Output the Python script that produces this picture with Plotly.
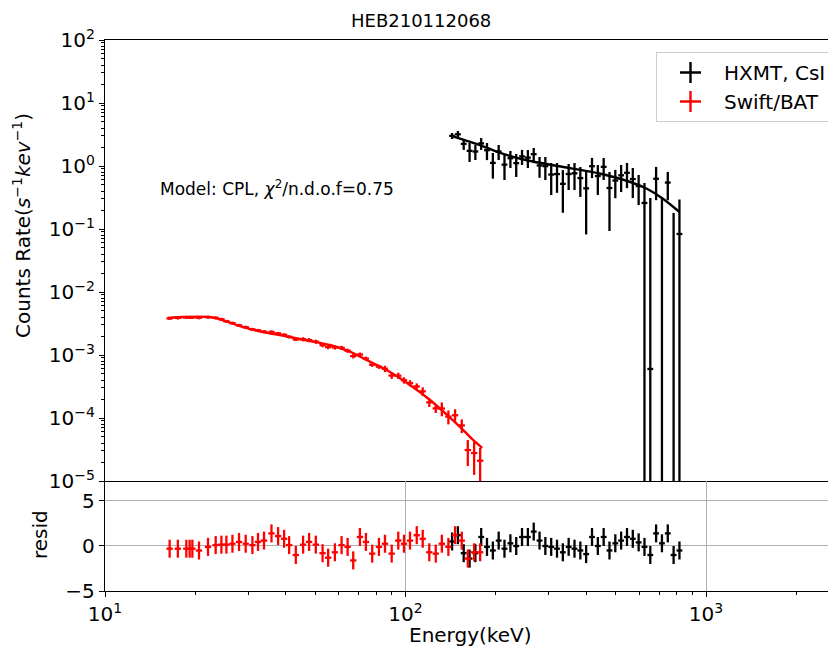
import plotly.graph_objects as go

# ---------------- data ----------------
# HXMT / CsI spectrum
hxmt_energy = [142.9, 149.4, 156.2, 163.4, 170.8, 178.6, 186.7, 195.3, 204.2, 213.5,
               223.4, 233.6, 244.2, 255.4, 267.1, 279.3, 292.0, 305.4, 319.3, 333.9,
               349.1, 365.1, 381.8, 399.2, 417.5, 436.5, 456.5, 477.3, 499.1, 521.9,
               545.8, 570.7, 596.8, 624.1, 652.6, 682.3, 713.5, 746.1, 780.2, 815.9]
hxmt_rate = [3.01, 3.19, 2.24, 1.74, 1.70, 2.29, 1.78, 1.12, 1.70, 1.05,
             1.33, 1.11, 1.42, 1.36, 1.54, 1.02, 0.995, 0.731, 0.745, 0.521,
             0.746, 0.766, 0.643, 0.442, 0.993, 0.692, 0.97, 0.448, 0.588, 0.712,
             0.78, 0.62, 0.48, 0.259, 0.0006, 0.627, -0.05, 0.546, -0.10, 0.0834]
hxmt_err = [0.33, 0.41, 0.44, 0.58, 0.455, 0.49, 0.54, 0.49, 0.455, 0.45,
            0.40, 0.44, 0.38, 0.43, 0.39, 0.37, 0.395, 0.385, 0.37, 0.34,
            0.33, 0.35, 0.32, 0.36, 0.35, 0.345, 0.37, 0.355, 0.28, 0.325,
            0.335, 0.31, 0.24, 0.28, 0.31, 0.34, 0.36, 0.26, 0.28, 0.21]
hxmt_resid = [0.5, 1.2, -0.8, -1.4, -0.8, 1.0, -0.1, -0.5, 0.6, -0.3,
              0.3, 0.0, 1.0, 1.0, 1.6, 0.6, 0.0, -0.1, -0.3, -0.7,
              -0.1, -0.3, -0.5, -0.9, 1.0, 0.0, 1.0, -0.5, 0.3, 0.6,
              1.0, 0.8, 0.4, -0.1, -1.0, 1.4, 0.3, 1.4, -1.0, -0.5]
hxmt_model_energy = [142.9, 177.1, 206.5, 260.0, 334.9, 434.9, 560.0, 638.1, 721.4, 816.2]
hxmt_model_rate = [2.99, 2.15, 1.61, 1.20, 0.964, 0.774, 0.557, 0.431, 0.299, 0.186]

# Swift / BAT spectrum
bat_energy = [16.41, 17.48, 18.65, 19.13, 19.53, 20.55, 22.02, 23.35, 24.40, 25.35,
              26.55, 27.93, 29.39, 30.94, 32.30, 33.82, 35.81, 37.67, 39.45, 41.00,
              43.15, 45.63, 47.78, 50.30, 52.97, 55.29, 58.21, 61.28, 64.18, 66.99,
              70.52, 73.84, 77.49, 81.58, 85.43, 89.95, 94.62, 98.85, 103.5, 109.0,
              114.1, 120.0, 126.1, 132.1, 138.9, 146.2, 153.9, 161.2, 169.2, 177.2]
bat_rate = [3.804e-3, 3.874e-3, 3.945e-3, 3.945e-3, 3.945e-3, 3.902e-3, 3.989e-3, 3.888e-3, 3.690e-3, 3.429e-3,
            3.205e-3, 2.958e-3, 2.770e-3, 2.553e-3, 2.463e-3, 2.351e-3, 2.326e-3, 2.205e-3, 2.092e-3, 1.941e-3,
            1.762e-3, 1.781e-3, 1.724e-3, 1.626e-3, 1.436e-3, 1.335e-3, 1.320e-3, 1.301e-3, 1.170e-3, 9.57e-4,
            1.018e-3, 8.77e-4, 7.01e-4, 6.52e-4, 6.05e-4, 4.72e-4, 4.69e-4, 3.97e-4, 3.57e-4, 3.17e-4,
            2.65e-4, 1.774e-4, 1.420e-4, 1.415e-4, 1.052e-4, 1.104e-4, 7.63e-5, 3.10e-5, 2.78e-5, 2.10e-5]
bat_err = [2.14e-4, 2.18e-4, 2.22e-4, 2.22e-4, 2.22e-4, 2.20e-4, 2.25e-4, 2.19e-4, 2.08e-4, 1.93e-4,
           1.80e-4, 1.67e-4, 1.56e-4, 1.44e-4, 1.39e-4, 1.32e-4, 1.31e-4, 1.24e-4, 1.18e-4, 1.09e-4,
           9.9e-5, 1.35e-4, 1.31e-4, 1.23e-4, 1.09e-4, 1.01e-4, 1.00e-4, 9.9e-5, 8.9e-5, 7.3e-5,
           7.7e-5, 6.6e-5, 5.3e-5, 4.9e-5, 7.0e-5, 5.5e-5, 5.4e-5, 4.6e-5, 4.1e-5, 3.7e-5,
           4.2e-5, 2.8e-5, 2.2e-5, 3.5e-5, 2.6e-5, 2.7e-5, 1.87e-5, 1.37e-5, 1.53e-5, 1.24e-5]
bat_resid = [-0.3, -0.3, -0.3, -0.3, -0.3, -0.5, -0.1, 0.1, 0.15, 0.15,
             0.25, 0.45, 0.25, 0.1, 0.45, 0.6, 1.4, 1.1, 0.8, 0.1,
             -1.0, 0.15, 0.45, 0.15, -0.8, -1.3, -0.7, 0.1, -0.1, -1.6,
             1.0, 0.45, -0.85, -0.1, 0.25, -0.85, 0.6, 0.25, 0.6, 1.2,
             0.8, -0.7, -0.85, 0.25, -0.1, 1.2, 0.6, -1.4, -0.7, -0.7]
bat_model_energy = [16.16, 18.13, 22.30, 24.08, 27.44, 30.32, 34.54, 41.21, 48.05, 56.03,
                    65.31, 76.15, 88.80, 103.5, 120.7, 137.5, 155.5, 167.9, 179.9]
bat_model_rate = [3.87e-3, 4.01e-3, 4.01e-3, 3.72e-3, 2.99e-3, 2.59e-3, 2.24e-3, 1.93e-3, 1.67e-3, 1.44e-3,
                  1.13e-3, 7.83e-4, 5.37e-4, 3.34e-4, 1.93e-4, 1.12e-4, 6.46e-5, 4.48e-5, 3.34e-5]

resid_err = 1.0
series_names = ["HXMT, CsI", "Swift/BAT"]
title_text = "HEB210112068"
model_text = "Model: CPL, <i>χ</i><sup>2</sup>/n.d.o.f=0.75"
y_tick_exps = [-5, -4, -3, -2, -1, 0, 1, 2]
x_tick_exps = [1, 2, 3]

# ---------------- styling / layout ----------------
FONT = "DejaVu Sans"
FS = 20
HXMT_DEX = 0.0097   # half bin width (log10)
BAT_DEX = 0.0105
LW = 2.3

OFF = 8                     # page body margin of the html page
W, H = 836 - OFF, 663 - OFF
PL, PR, PT, PB = 105, 836, 40, 591   # plot area in window pixels
L, T = PL - OFF, PT - OFF
R = 0
B = H - (PB - OFF)
PW, PH = PR - PL, PB - PT
split = 110 / PH


def px(xw):
    return (xw - PL) / PW


def py(yw):
    return (PB - yw) / PH


def xerr(energies, dex):
    plus = [e * (10 ** dex - 1) for e in energies]
    minus = [e * (1 - 10 ** -dex) for e in energies]
    return plus, minus


fig = go.Figure()


def add_series(energy, rate, err, resid, dex, color):
    p, m = xerr(energy, dex)
    pos = [i for i, v in enumerate(rate) if v > 0]
    neg = [i for i, v in enumerate(rate) if v <= 0]
    fig.add_trace(go.Scatter(
        x=[energy[i] for i in pos], y=[rate[i] for i in pos], mode="markers", showlegend=False,
        marker=dict(size=1, color=color),
        error_y=dict(type="data", array=[err[i] for i in pos], symmetric=True,
                     thickness=LW, width=0, color=color),
        error_x=dict(type="data", array=[p[i] for i in pos], arrayminus=[m[i] for i in pos],
                     thickness=LW, width=0, color=color),
        xaxis="x", yaxis="y"))
    if neg:
        # points whose value is below zero: only the upper part of the bar is visible
        fig.add_trace(go.Scatter(
            x=[energy[i] for i in neg], y=[rate[i] + err[i] for i in neg],
            mode="markers", showlegend=False, marker=dict(size=0, color=color, opacity=0),
            error_y=dict(type="data", array=[0] * len(neg), arrayminus=[2 * err[i] for i in neg],
                         symmetric=False, thickness=LW, width=0, color=color),
            xaxis="x", yaxis="y"))
    fig.add_trace(go.Scatter(
        x=energy, y=resid, mode="markers", showlegend=False,
        marker=dict(size=1, color=color),
        error_y=dict(type="data", array=[resid_err] * len(resid), thickness=LW, width=0, color=color),
        error_x=dict(type="data", array=p, arrayminus=m, thickness=LW, width=0, color=color),
        xaxis="x2", yaxis="y2"))


add_series(hxmt_energy, hxmt_rate, hxmt_err, hxmt_resid, HXMT_DEX, "black")
fig.add_trace(go.Scatter(x=hxmt_model_energy, y=hxmt_model_rate, mode="lines",
                         line=dict(color="black", width=2.4, shape="spline", smoothing=0.6),
                         showlegend=False, xaxis="x", yaxis="y"))
add_series(bat_energy, bat_rate, bat_err, bat_resid, BAT_DEX, "#ff0000")
fig.add_trace(go.Scatter(x=bat_model_energy, y=bat_model_rate, mode="lines",
                         line=dict(color="#ff0000", width=2.4, shape="spline", smoothing=0.6),
                         showlegend=False, xaxis="x", yaxis="y"))

# legend entries
for name, color in zip(series_names, ["black", "#ff0000"]):
    fig.add_trace(go.Scatter(x=[None], y=[None], mode="markers", name=name,
                             marker=dict(symbol="cross-thin", size=15,
                                         line=dict(width=2.4, color=color)),
                             xaxis="x", yaxis="y"))

minor_x = [m * 10 ** k for k in (1, 2, 3) for m in range(2, 10)]
minor_y = [m * 10.0 ** k for k in range(-5, 2) for m in range(2, 10)]

axis_common = dict(linecolor="black", linewidth=1.3, tickcolor="black", tickwidth=1.3,
                   tickfont=dict(family=FONT, size=FS, color="black"))

fig.update_layout(
    width=W, height=H,
    margin=dict(l=L, r=R, t=T, b=B, autoexpand=False),
    paper_bgcolor="white", plot_bgcolor="white",
    font=dict(family=FONT, size=FS, color="black"),
    showlegend=True,
    legend=dict(x=px(832), y=py(52), xanchor="right", yanchor="top",
                bgcolor="rgba(255,255,255,0.8)", bordercolor="#cccccc", borderwidth=1,
                font=dict(family=FONT, size=FS, color="black"), itemwidth=57),
    xaxis=dict(type="log", range=[1, 1 + PW / 300.5], domain=[0, 1], anchor="y",
               showline=True, mirror=True, showticklabels=False, ticks="",
               showgrid=False, zeroline=False, matches="x2", **axis_common),
    yaxis=dict(type="log", range=[-5, 2], domain=[split, 1], anchor="x",
               showline=True, ticks="outside", ticklen=5,
               tickmode="array", tickvals=[10.0 ** e for e in y_tick_exps],
               ticktext=["10<sup>%s</sup>" % str(e).replace("-", "−") for e in y_tick_exps],
               showgrid=False, zeroline=False,
               minor=dict(ticks="outside", ticklen=2.5, tickvals=minor_y,
                          tickcolor="black", tickwidth=1, showgrid=False),
               **axis_common),
    xaxis2=dict(type="log", range=[1, 1 + PW / 300.5], domain=[0, 1], anchor="y2",
                showline=True, ticks="outside", ticklen=5,
                tickmode="array", tickvals=[10 ** e for e in x_tick_exps],
                ticktext=["10<sup>%d</sup>" % e for e in x_tick_exps],
                showgrid=True, gridcolor="#b0b0b0", gridwidth=1.3, zeroline=False,
                minor=dict(ticks="outside", ticklen=2.5, tickvals=minor_x,
                           tickcolor="black", tickwidth=1, showgrid=False),
                **axis_common),
    yaxis2=dict(range=[-5, 7.22], domain=[0, split], anchor="x2",
                showline=True, ticks="outside", ticklen=5, tickvals=[-5, 0, 5],
                showgrid=True, gridcolor="#b0b0b0", gridwidth=1.3, zeroline=False,
                **axis_common),
    annotations=[
        dict(text=title_text, x=px(421), y=py(20),
             xref="paper", yref="paper", showarrow=False, xanchor="center", yanchor="middle",
             font=dict(family=FONT, size=18, color="black")),
        dict(text=model_text, x=px(158), y=py(188),
             xref="paper", yref="paper", showarrow=False, xanchor="left", yanchor="middle",
             font=dict(family=FONT, size=17, color="black")),
        dict(text="Counts Rate(<i>s</i><sup>−1</sup><i>kev</i><sup>−1</sup>)",
             x=px(22), y=py(226), textangle=-90,
             xref="paper", yref="paper", showarrow=False, xanchor="center", yanchor="middle",
             font=dict(family=FONT, size=FS, color="black")),
        dict(text="resid", x=px(40), y=py(535), textangle=-90,
             xref="paper", yref="paper", showarrow=False, xanchor="center", yanchor="middle",
             font=dict(family=FONT, size=FS, color="black")),
        dict(text="Energy(keV)", x=px(470), y=py(635),
             xref="paper", yref="paper", showarrow=False, xanchor="center", yanchor="middle",
             font=dict(family=FONT, size=FS, color="black")),
    ],
)

fig.write_html("out.html")
